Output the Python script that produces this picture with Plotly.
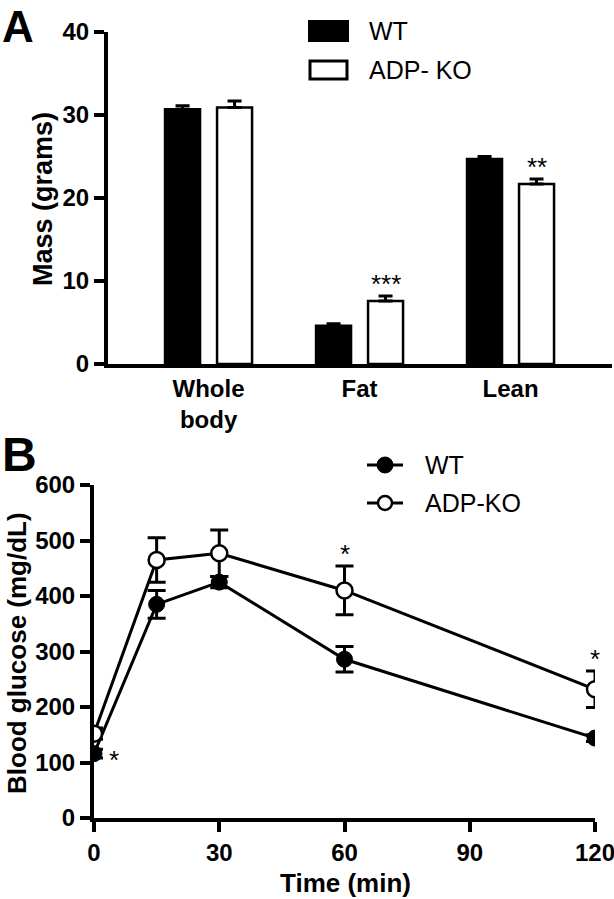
import plotly.graph_objects as go

# ---------------- Data ----------------
# Panel A: body composition
categories = ["Whole<br>body", "Fat", "Lean"]
wt_mass = [30.7, 4.6, 24.7]
wt_mass_err = [0.4, 0.25, 0.3]
ko_mass = [30.9, 7.6, 21.7]
ko_mass_err = [0.8, 0.6, 0.6]
mass_sig = ["", "***", "**"]
mass_ticks = [0, 10, 20, 30, 40]

# Panel B: glucose tolerance
time_min = [0, 15, 30, 60, 120]
wt_glu = [116, 385, 425, 286, 144]
wt_glu_err = [8, 25, 10, 23, 6]
ko_glu = [152, 465, 477, 410, 232]
ko_glu_err = [10, 40, 42, 44, 33]
glu_sig = ["*", "", "", "*", "*"]
glu_yticks = [0, 100, 200, 300, 400, 500, 600]
glu_xticks = [0, 30, 60, 90, 120]

W, H = 614, 899
FONT = "Liberation Sans, Arial, Helvetica, sans-serif"
BLACK = "#000000"


def px_x(p):
    return p / W


def px_y(p):
    return 1 - p / H


cat_x = list(range(len(categories)))

fig = go.Figure()

# ---- Panel A bars ----
fig.add_trace(go.Bar(
    x=cat_x, y=wt_mass, name="WT",
    marker=dict(color=BLACK, line=dict(color=BLACK, width=2.5)),
    error_y=dict(type="data", array=wt_mass_err, arrayminus=[0] * 3,
                 symmetric=False, color=BLACK, thickness=3, width=7),
    xaxis="x", yaxis="y", showlegend=False,
))
fig.add_trace(go.Bar(
    x=cat_x, y=ko_mass, name="ADP- KO",
    marker=dict(color="white", line=dict(color=BLACK, width=2.5)),
    error_y=dict(type="data", array=ko_mass_err, arrayminus=[0] * 3,
                 symmetric=False, color=BLACK, thickness=3, width=7),
    xaxis="x", yaxis="y", showlegend=False,
))

# ---- Panel B lines ----
fig.add_trace(go.Scatter(
    x=time_min, y=wt_glu, mode="lines+markers", name="WT",
    line=dict(color=BLACK, width=3),
    marker=dict(symbol="circle", size=16, color=BLACK,
                line=dict(color=BLACK, width=1)),
    error_y=dict(type="data", array=wt_glu_err, color=BLACK,
                 thickness=3, width=9),
    xaxis="x2", yaxis="y2", showlegend=False,
))
fig.add_trace(go.Scatter(
    x=time_min, y=ko_glu, mode="lines+markers", name="ADP-KO",
    line=dict(color=BLACK, width=3),
    marker=dict(symbol="circle", size=16, color="white",
                line=dict(color=BLACK, width=2.5)),
    error_y=dict(type="data", array=ko_glu_err, color=BLACK,
                 thickness=3, width=9),
    xaxis="x2", yaxis="y2", showlegend=False,
))

axis_common = dict(
    showline=True, linecolor=BLACK, linewidth=4,
    showgrid=False, zeroline=False, automargin=False,
    ticklabeloverflow="allow",
    ticks="outside", ticklen=10, tickwidth=4, tickcolor=BLACK,
    tickfont=dict(family=FONT, size=24, color=BLACK, weight="bold"),
)

fig.update_layout(
    width=W, height=H,
    margin=dict(l=0, r=0, t=0, b=0, autoexpand=False),
    paper_bgcolor="white", plot_bgcolor="white",
    barmode="group", bargap=0.311, bargroupgap=0.327,
    xaxis=dict(
        domain=[px_x(108), px_x(612)], anchor="y",
        range=[-0.666, 2.672],
        tickmode="array", tickvals=cat_x, ticktext=categories,
        showline=True, linecolor=BLACK, linewidth=4, automargin=False,
        ticklabeloverflow="allow",
        showgrid=False, zeroline=False, ticks="",
        ticklabelstandoff=0,
        tickfont=dict(family=FONT, size=24, color=BLACK, weight="bold"),
    ),
    yaxis=dict(
        domain=[px_y(364), px_y(32)], anchor="x",
        range=[0, 40], tickmode="array", tickvals=mass_ticks,
        **axis_common,
    ),
    xaxis2=dict(
        domain=[px_x(94), px_x(595)], anchor="y2",
        range=[0, 120], tickmode="array", tickvals=glu_xticks,
        **axis_common,
    ),
    yaxis2=dict(
        domain=[px_y(818), px_y(485)], anchor="x2",
        range=[0, 600], tickmode="array", tickvals=glu_yticks,
        **axis_common,
    ),
    font=dict(family=FONT, color=BLACK),
)

ann = []
# Panel letters
ann.append(dict(text="A", x=px_x(0), y=px_y(0), xref="paper", yref="paper",
                xanchor="left", yanchor="top", showarrow=False,
                font=dict(family=FONT, size=44, color=BLACK, weight="bold")))
ann.append(dict(text="B", x=px_x(0), y=px_y(426), xref="paper", yref="paper",
                xanchor="left", yanchor="top", showarrow=False,
                font=dict(family=FONT, size=48, color=BLACK, weight="bold")))
# Axis titles
ann.append(dict(text="Mass (grams)", x=px_x(43), y=px_y(199), xref="paper",
                yref="paper", textangle=-90, showarrow=False,
                xanchor="center", yanchor="middle",
                font=dict(family=FONT, size=27, color=BLACK, weight="bold")))
ann.append(dict(text="Blood glucose (mg/dL)", x=px_x(17), y=px_y(653),
                xref="paper", yref="paper", textangle=-90, showarrow=False,
                xanchor="center", yanchor="middle",
                font=dict(family=FONT, size=26, color=BLACK, weight="bold")))
ann.append(dict(text="Time (min)", x=px_x(345), y=px_y(883), xref="paper",
                yref="paper", showarrow=False, xanchor="center",
                yanchor="middle",
                font=dict(family=FONT, size=26, color=BLACK, weight="bold")))

# Significance stars, panel A (above KO error bars)
for i, s in enumerate(mass_sig):
    if s:
        ann.append(dict(text=s, x=cat_x[i], y=ko_mass[i] + ko_mass_err[i],
                        xref="x", yref="y", xshift=26, yshift=12,
                        showarrow=False, xanchor="center", yanchor="middle",
                        font=dict(family=FONT, size=26, color=BLACK)))
# Significance stars, panel B
for i, s in enumerate(glu_sig):
    if not s:
        continue
    if i == 0:
        ann.append(dict(text=s, x=time_min[i], y=wt_glu[i], xref="x2",
                        yref="y2", xshift=20, yshift=-6, showarrow=False,
                        xanchor="center", yanchor="middle",
                        font=dict(family=FONT, size=26, color=BLACK)))
    else:
        ann.append(dict(text=s, x=time_min[i], y=ko_glu[i] + ko_glu_err[i],
                        xref="x2", yref="y2", yshift=12, showarrow=False,
                        xanchor="center", yanchor="middle",
                        font=dict(family=FONT, size=26, color=BLACK)))

# Legend texts
leg_font = dict(family=FONT, size=25, color=BLACK)
for txt, xp, yp in [("WT", 367, 31), ("ADP- KO", 367, 70),
                    ("WT", 423, 465), ("ADP-KO", 423, 503)]:
    ann.append(dict(text=txt, x=px_x(xp), y=px_y(yp), xref="paper",
                    yref="paper", xanchor="left", yanchor="middle",
                    showarrow=False, font=leg_font))
fig.update_layout(annotations=ann)

# Legend keys
shapes = [
    dict(type="rect", xref="paper", yref="paper",
         x0=px_x(309), x1=px_x(348), y0=px_y(41), y1=px_y(21),
         fillcolor=BLACK, line=dict(color=BLACK, width=2)),
    dict(type="rect", xref="paper", yref="paper",
         x0=px_x(310), x1=px_x(347), y0=px_y(79), y1=px_y(61),
         fillcolor="white", line=dict(color=BLACK, width=3)),
    dict(type="line", xref="paper", yref="paper",
         x0=px_x(367), x1=px_x(403), y0=px_y(465), y1=px_y(465),
         line=dict(color=BLACK, width=3)),
    dict(type="circle", xref="paper", yref="paper",
         x0=px_x(377), x1=px_x(393), y0=px_y(473), y1=px_y(457),
         fillcolor=BLACK, line=dict(color=BLACK, width=1)),
    dict(type="line", xref="paper", yref="paper",
         x0=px_x(367), x1=px_x(403), y0=px_y(503), y1=px_y(503),
         line=dict(color=BLACK, width=3)),
    dict(type="circle", xref="paper", yref="paper",
         x0=px_x(378), x1=px_x(392), y0=px_y(510), y1=px_y(496),
         fillcolor="white", line=dict(color=BLACK, width=2.5)),
]
fig.update_layout(shapes=shapes)

fig.write_html(
    "out.html",
    config={"displayModeBar": False},
    post_script="document.body.style.margin='0';"
                "document.body.style.overflow='hidden';",
)
